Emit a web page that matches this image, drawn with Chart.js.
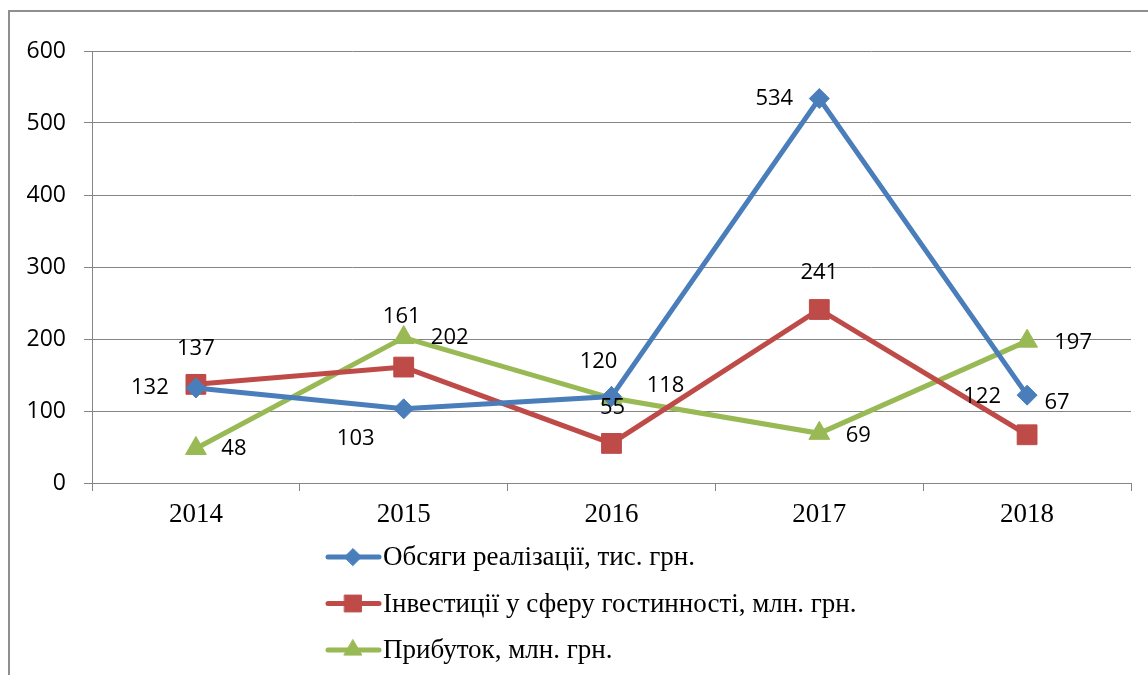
<!DOCTYPE html>
<html>
<head>
<meta charset="utf-8">
<script src="https://cdn.jsdelivr.net/npm/chart.js@4/dist/chart.umd.min.js"></script>
<style>
  body { margin: 0; background: #fff; }
  #wrap { width: 1148px; height: 675px; position: relative; }
</style>
</head>
<body>
<div id="wrap"><canvas id="grafico"></canvas></div>
<script>
// data
const roky = ['2014', '2015', '2016', '2017', '2018'];
const obsyagy = [132, 103, 120, 534, 122];
const investytsii = [137, 161, 55, 241, 67];
const prybutok = [48, 202, 118, 69, 197];
const nazvy = [
    'Обсяги реалізації, тис. грн.',
    'Інвестиції у сферу гостинності, млн. грн.',
    'Прибуток, млн. грн.'
];

// where each value label sits relative to its point (px)
const zsuvy = [
    [[-46, 0], [-48, 30], [-13, -35], [-45, 0], [-45, 2]],
    [[0, -36], [-2, -50], [1, -36], [0, -37], [30, -32]],
    [[38, 0], [46, 0], [54, -12], [39, 2], [46, 2]]
];

const kolory = ['#4A7EBB', '#BE4B48', '#98B954'];
const sirij = '#858585';

// value labels next to the points
const pidpysy = {
    id: 'pidpysy',
    afterDatasetsDraw(chart) {
        const ctx = chart.ctx;
        ctx.save();
        ctx.font = '22px "Open Sans"';
        ctx.fillStyle = '#000';
        ctx.textAlign = 'center';
        ctx.textBaseline = 'middle';
        chart.data.datasets.forEach((ds, i) => {
            chart.getDatasetMeta(i).data.forEach((pt, j) => {
                const z = zsuvy[i][j];
                ctx.fillText(String(ds.data[j]), pt.x + z[0], pt.y + z[1]);
            });
        });
        ctx.restore();
    }
};

// frame and legend in the Excel style (line + marker, one row each)
const ramka = {
    id: 'ramka',
    afterDraw(chart) {
        const ctx = chart.ctx;
        ctx.save();
        ctx.strokeStyle = '#8f8f8f';
        ctx.lineWidth = 2;
        ctx.beginPath();
        ctx.moveTo(9, 675);
        ctx.lineTo(9, 11);
        ctx.lineTo(1148, 11);
        ctx.stroke();

        ctx.font = '27px "Liberation Serif"';
        ctx.textBaseline = 'middle';
        ctx.textAlign = 'left';
        chart.data.datasets.forEach((ds, i) => {
            const y = 557 + i * 46.5;
            ctx.strokeStyle = ds.borderColor;
            ctx.lineWidth = ds.borderWidth;
            ctx.lineCap = 'round';
            ctx.beginPath();
            ctx.moveTo(328, y);
            ctx.lineTo(379, y);
            ctx.stroke();
            ctx.fillStyle = ds.pointBackgroundColor;
            ctx.strokeStyle = ds.pointBorderColor;
            ctx.lineWidth = 1;
            Chart.helpers.drawPoint(ctx, {
                pointStyle: ds.pointStyle,
                radius: ds.pointRadius * 0.85,
                rotation: 0,
                borderWidth: 1
            }, 353, y);
            ctx.fillStyle = '#000';
            ctx.fillText(ds.label, 383, y + 1);
        });
        ctx.restore();
    }
};

function seriya(label, dani, kolir, styl, r) {
    return {
        label: label,
        data: dani,
        borderColor: kolir,
        backgroundColor: kolir,
        pointBackgroundColor: kolir,
        pointBorderColor: kolir,
        borderWidth: 5,
        pointStyle: styl,
        pointRadius: r,
        pointHoverRadius: r,
        pointBorderWidth: 1,
        tension: 0
    };
}

window.onload = () => {
    const grafik = new Chart(document.getElementById('grafico'), {
        type: 'line',
        data: {
            labels: roky,
            datasets: [
                seriya(nazvy[0], obsyagy, kolory[0], 'rectRot', 10),
                seriya(nazvy[1], investytsii, kolory[1], 'rect', 14),
                seriya(nazvy[2], prybutok, kolory[2], 'triangle', 12)
            ]
        },
        options: {
            responsive: true,
            maintainAspectRatio: false,
            animation: false,
            layout: { padding: { left: 0, top: 51, right: 17, bottom: 0 } },
            plugins: {
                legend: { display: false },
                tooltip: { enabled: false }
            },
            scales: {
                x: {
                    offset: true,
                    grid: {
                        offset: true,
                        drawOnChartArea: false,
                        drawTicks: true,
                        tickLength: 8,
                        color: sirij
                    },
                    border: { display: true, color: sirij, width: 1 },
                    ticks: {
                        color: '#000',
                        padding: 8,
                        font: { family: 'Liberation Serif', size: 27 }
                    },
                    afterFit(scale) { scale.height = 192; }
                },
                y: {
                    min: 0,
                    max: 600,
                    ticks: {
                        stepSize: 100,
                        color: '#000',
                        padding: 18,
                        font: { family: 'Open Sans', size: 23 }
                    },
                    grid: { color: sirij, tickLength: 8, lineWidth: 1 },
                    border: { display: true, color: sirij, width: 1 },
                    afterFit(scale) { scale.width = 92; }
                }
            }
        },
        plugins: [pidpysy, ramka]
    });
}
</script>
</body>
</html>
